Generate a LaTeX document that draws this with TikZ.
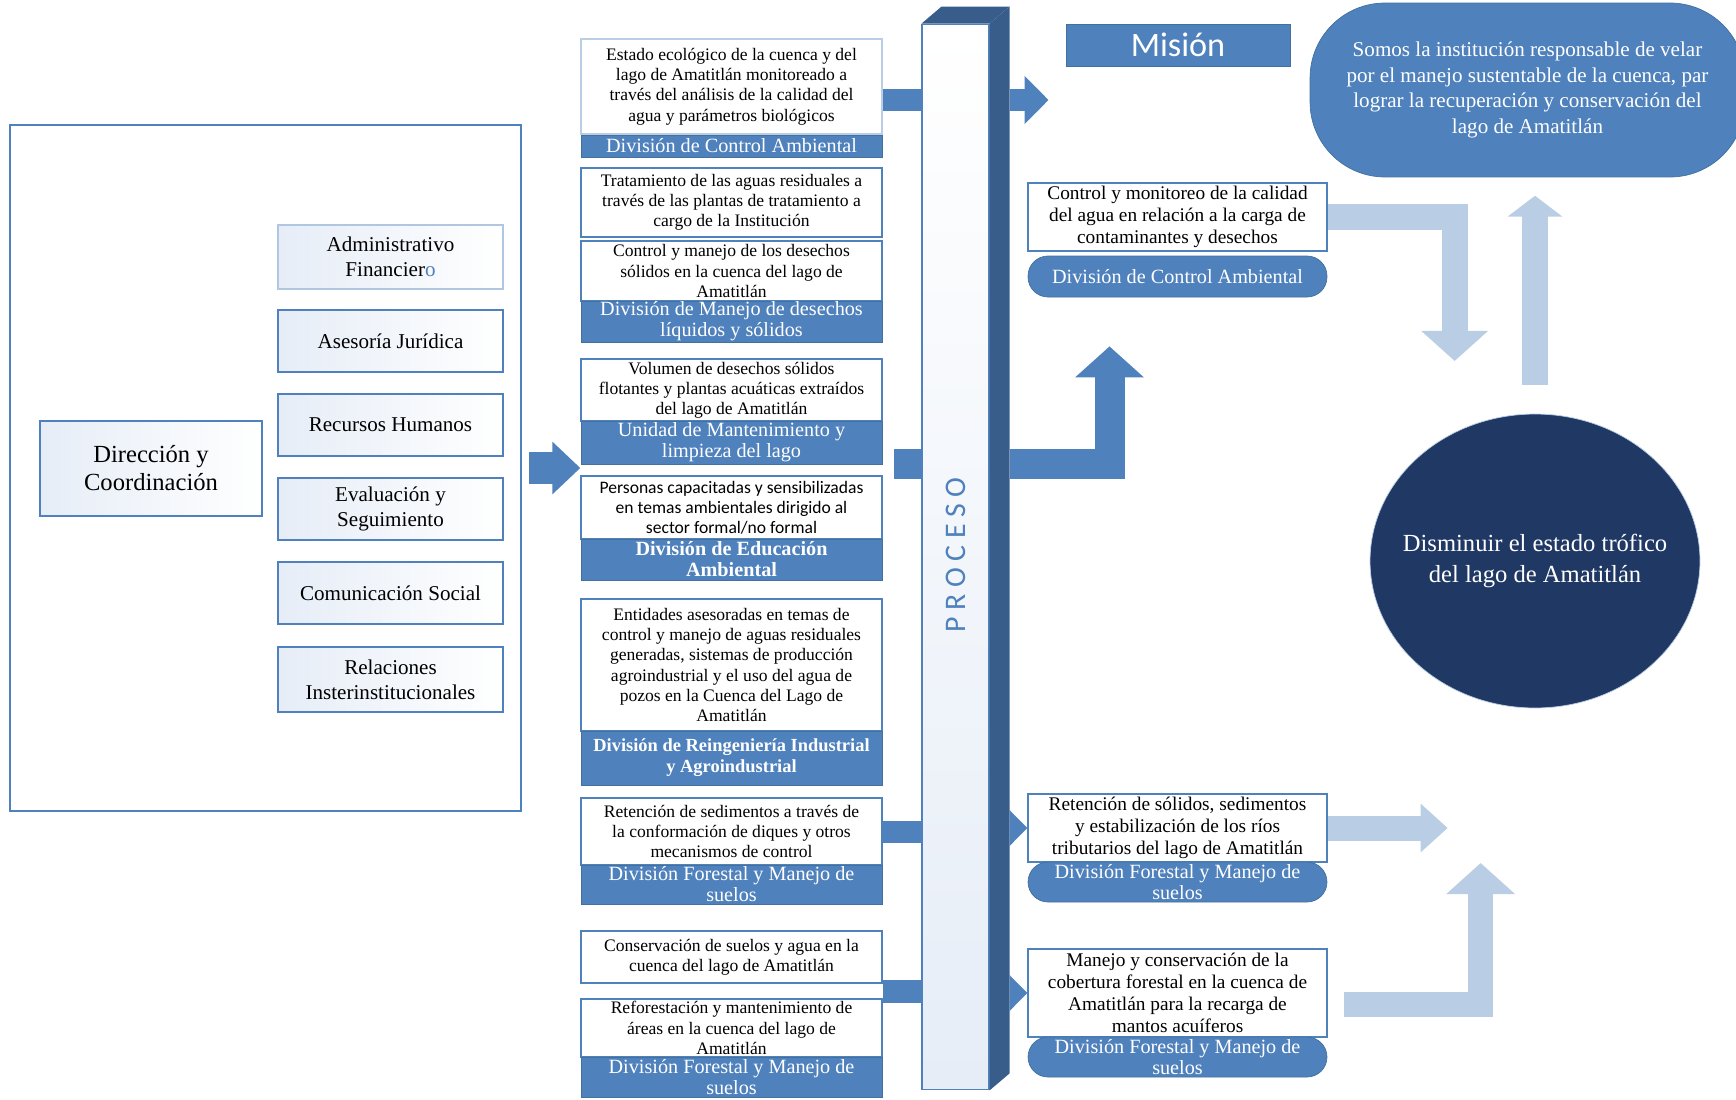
\documentclass[tikz,border=0pt]{standalone}
\usepackage{fontspec}
\setmainfont{Liberation Serif}
\newfontfamily\calfont{Carlito}
\newfontfamily\procfont[LetterSpace=22]{Carlito}
\usetikzlibrary{shapes.geometric,arrows.meta,calc}
\definecolor{midblue}{RGB}{79,129,189}
\definecolor{edgeblue}{RGB}{65,113,156}
\definecolor{sideblue}{RGB}{56,93,138}
\definecolor{lightblue}{RGB}{185,205,229}
\definecolor{paleblue}{RGB}{230,237,247}
\definecolor{navy}{RGB}{32,56,100}

\begin{document}
\begin{tikzpicture}[x=0.02cm, y=-0.02cm,
  unitbox/.style = {shape=rectangle, draw=midblue, line width=0.8pt, align=center, left color=paleblue, right color=white, minimum width=4.5cm, font=\fontsize{12}{14}\selectfont},
  outbox/.style = {shape=rectangle, draw=midblue, line width=0.8pt, align=center, fill=white, minimum width=6.02cm, inner sep=1pt, font=\fontsize{10}{11.5}\selectfont},
  divbar/.style = {shape=rectangle, draw=edgeblue, fill=midblue, text=white, align=center, minimum width=6.02cm, inner sep=0pt, font=\fontsize{11.5}{12}\selectfont},
  resbox/.style = {shape=rectangle, draw=midblue, line width=0.8pt, align=center, fill=white, minimum width=5.98cm, inner sep=1pt, font=\fontsize{11}{12.5}\selectfont},
  divpill/.style = {shape=rectangle, rounded corners=0.4cm, draw=edgeblue, fill=midblue, text=white, align=center, minimum width=5.98cm, inner sep=0pt, font=\fontsize{11.5}{12}\selectfont},
  link/.style = {draw=midblue, line width=0.44cm},
  flow/.style = {draw=midblue, line join=miter, -{Triangle[length=0.62cm, width=1.34cm]}},
  back/.style = {draw=lightblue, line join=miter, -{Triangle[length=0.6cm, width=1.3cm]}}]
\useasboundingbox (0,0) rectangle (1736,1099);

% unidades de apoyo
\node[draw=midblue, line width=0.8pt, minimum width=10.22cm, minimum height=13.72cm] (org) at (265.5,468) {};
\node[unitbox, minimum width=4.44cm, minimum height=1.9cm, font=\fontsize{14}{16}\selectfont] (dir) at (151,468.5) {Dirección y\\Coordinación};
\node[unitbox, draw=midblue!45, line width=1.5pt, minimum height=1.28cm] (adm) at (390.5,257) {Administrativo\\Financier\textcolor{midblue}{o}};
\node[unitbox, minimum height=1.24cm] (ase) at (390.5,341) {Asesoría Jurídica};
\node[unitbox, minimum height=1.24cm] (rec) at (390.5,425) {Recursos Humanos};
\node[unitbox, minimum height=1.24cm] (eva) at (390.5,509) {Evaluación y\\Seguimiento};
\node[unitbox, minimum height=1.24cm] (com) at (390.5,593) {Comunicación Social};
\node[unitbox, minimum height=1.3cm] (rel) at (390.5,679.5) {Relaciones\\Insterinstitucionales};

% productos y divisiones
\node[outbox, draw=midblue!40, line width=1.5pt, minimum height=1.9cm] (est) at (731.5,86.5) {Estado ecológico de la cuenca y del\\lago de Amatitlán monitoreado a\\través del análisis de la calidad del\\agua y parámetros biológicos};
\node[divbar, minimum height=0.44cm] (estdiv) at (731.5,146) {División de Control Ambiental};
\node[outbox, minimum height=1.38cm] (trat) at (731.5,202.5) {Tratamiento de las aguas residuales a\\través de las plantas de tratamiento a\\cargo de la Institución};
\node[outbox, minimum height=1.2cm] (des) at (731.5,271) {Control y manejo de los desechos\\sólidos en la cuenca del lago de\\Amatitlán};
\node[divbar, minimum height=0.82cm] (desdiv) at (731.5,321.5) {División de Manejo de desechos\\líquidos y sólidos};
\node[outbox, minimum height=1.24cm] (vol) at (731.5,390) {Volumen de desechos sólidos\\flotantes y plantas acuáticas extraídos\\del lago de Amatitlán};
\node[divbar, minimum height=0.86cm] (voldiv) at (731.5,442.5) {Unidad de Mantenimiento y\\limpieza del lago};
\node[outbox, minimum height=1.26cm, font=\calfont\fontsize{10}{11.5}\selectfont] (per) at (731.5,507.5) {Personas capacitadas y sensibilizadas\\en temas ambientales dirigido al\\sector formal/no formal};
\node[divbar, minimum height=0.82cm, font=\bfseries\fontsize{11.5}{12}\selectfont] (perdiv) at (731.5,559.5) {División de Educación\\Ambiental};
\node[outbox, minimum height=2.64cm] (ent) at (731.5,665) {Entidades asesoradas en temas de\\control y manejo de aguas residuales\\generadas, sistemas de producción\\agroindustrial y el uso del agua de\\pozos en la Cuenca del Lago de\\Amatitlán};
\node[divbar, minimum height=1.08cm, font=\bfseries\fontsize{10.5}{12}\selectfont] (entdiv) at (731.5,758) {División de Reingeniería Industrial\\y Agroindustrial};
\node[outbox, minimum height=1.34cm] (sed) at (731.5,831.5) {Retención de sedimentos a través de\\la conformación de diques y otros\\mecanismos de control};
\node[divbar, minimum height=0.78cm] (seddiv) at (731.5,884.5) {División Forestal y Manejo de\\suelos};
\node[outbox, minimum height=1.04cm] (con) at (731.5,957) {Conservación de suelos y agua en la\\cuenca del lago de Amatitlán};
\node[outbox, minimum height=1.16cm] (ref) at (731.5,1028) {Reforestación y mantenimiento de\\áreas en la cuenca del lago de\\Amatitlán};
\node[divbar, minimum height=0.8cm] (refdiv) at (731.5,1077) {División Forestal y Manejo de\\suelos};

% proceso
\node[draw=midblue, line width=0.6pt, top color=white, bottom color=paleblue, minimum width=1.34cm, minimum height=21.32cm] (proc) at (955.5,557) {};
\fill[sideblue] (proc.north east) -- ++(0.4cm,0.34cm) -- ($(proc.south east)+(0.4cm,0.34cm)$) -- (proc.south east) -- cycle;
\fill[sideblue] (proc.north west) -- ++(0.4cm,0.34cm) -- ($(proc.north east)+(0.4cm,0.34cm)$) -- (proc.north east) -- cycle;
\node[rotate=90, text=midblue, font=\procfont\fontsize{17}{17}\selectfont] (proclabel) at ($(proc.center)+(0,0.04cm)$) {PROCESO};
\coordinate (side) at ($(proc.east)+(0.4cm,0)$);

% resultados
\node[shape=rectangle, draw=edgeblue, fill=midblue, text=white, minimum width=4.48cm, minimum height=0.84cm, inner sep=0pt, font=\calfont\fontsize{19.5}{20}\selectfont] (mis) at (1178,45) {Misión};
\node[shape=rectangle, rounded corners=1.5cm, draw=edgeblue, fill=midblue, text=white, align=center, minimum width=8.7cm, minimum height=3.48cm, font=\fontsize{12}{14.5}\selectfont] (mistxt) at (1527.5,90) {Somos la institución responsable de velar\\por el manejo sustentable de la cuenca, par\\lograr la recuperación y conservación del\\lago de Amatitlán};
\node[resbox, minimum height=1.36cm] (ctlR) at (1177.5,217) {Control y monitoreo de la calidad\\del agua en relación a la carga de\\contaminantes y desechos};
\node[divpill, minimum height=0.82cm] (ctlpill) at (1177.5,276.5) {División de Control Ambiental};
\node[resbox, minimum height=1.36cm] (retR) at (1177.5,828) {Retención de sólidos, sedimentos\\y estabilización de los ríos\\tributarios del lago de Amatitlán};
\node[divpill, minimum height=0.8cm] (retpill) at (1177.5,882) {División Forestal y Manejo de\\suelos};
\node[resbox, minimum height=1.76cm] (manR) at (1177.5,993) {Manejo y conservación de la\\cobertura forestal en la cuenca de\\Amatitlán para la recarga de\\mantos acuíferos};
\node[divpill, minimum height=0.8cm] (manpill) at (1177.5,1057) {División Forestal y Manejo de\\suelos};
\node[ellipse, draw=lightblue, fill=navy, inner sep=0pt, minimum width=6.6cm, minimum height=5.88cm] (goal) at (1535,561) {};
\node[text=white, align=center, font=\fontsize{14}{17.5}\selectfont] (goaltxt) at (goal.center) {Disminuir el estado trófico\\del lago de Amatitlán};

% flechas
\draw[flow, line width=0.64cm, -{Triangle[length=0.56cm, width=1.02cm]}] ([xshift=0.14cm]org.east) -- (org.east -| per.west);
\draw[link] ([yshift=-0.27cm]est.east) -- ($(est.east -| proc.west)+(0,-0.27cm)$);
\draw[link, line width=0.6cm] ([xshift=0.24cm]voldiv.south east) -- (voldiv.south east -| proc.west);
\draw[link] (sed.east) -- (sed.east -| proc.west);
\coordinate (conref) at ($(con.south east)!0.5!(ref.north east)$);
\draw[link, line width=0.46cm] (conref) -- (conref -| proc.west);
\draw[flow, line width=0.44cm, -{Triangle[length=0.48cm, width=0.94cm]}] ($(est.east -| side)+(0,-0.27cm)$) -- ++(0.78cm,0);
\draw[flow, line width=0.6cm] (voldiv.south east -| side) -- ++(2cm,0) -- ++(0,2.36cm);
\fill[midblue] ($(retR.west -| side)+(0,0.36cm)$) -- (retR.west) -- ($(retR.west -| side)+(0,-0.36cm)$) -- cycle;
\fill[midblue] ($(manR.west -| side)+(0,0.36cm)$) -- (manR.west) -- ($(manR.west -| side)+(0,-0.36cm)$) -- cycle;
\draw[back, line width=0.52cm] (ctlR.east) -- ++(2.54cm,0) -- ++(0,-2.88cm);
\draw[back, line width=0.52cm, -{Triangle[length=0.42cm, width=1.08cm]}] ([yshift=0.58cm]goal.north) -- ++(0,3.78cm);
\draw[back, line width=0.5cm, -{Triangle[length=0.54cm, width=0.94cm]}] (retR.east) -- ++(2.4cm,0);
\draw[back, line width=0.5cm, -{Triangle[length=0.62cm, width=1.34cm]}] ($(manR.east)+(0.32cm,-0.22cm)$) -- ++(2.74cm,0) -- ++(0,2.82cm);
\end{tikzpicture}
\end{document}
